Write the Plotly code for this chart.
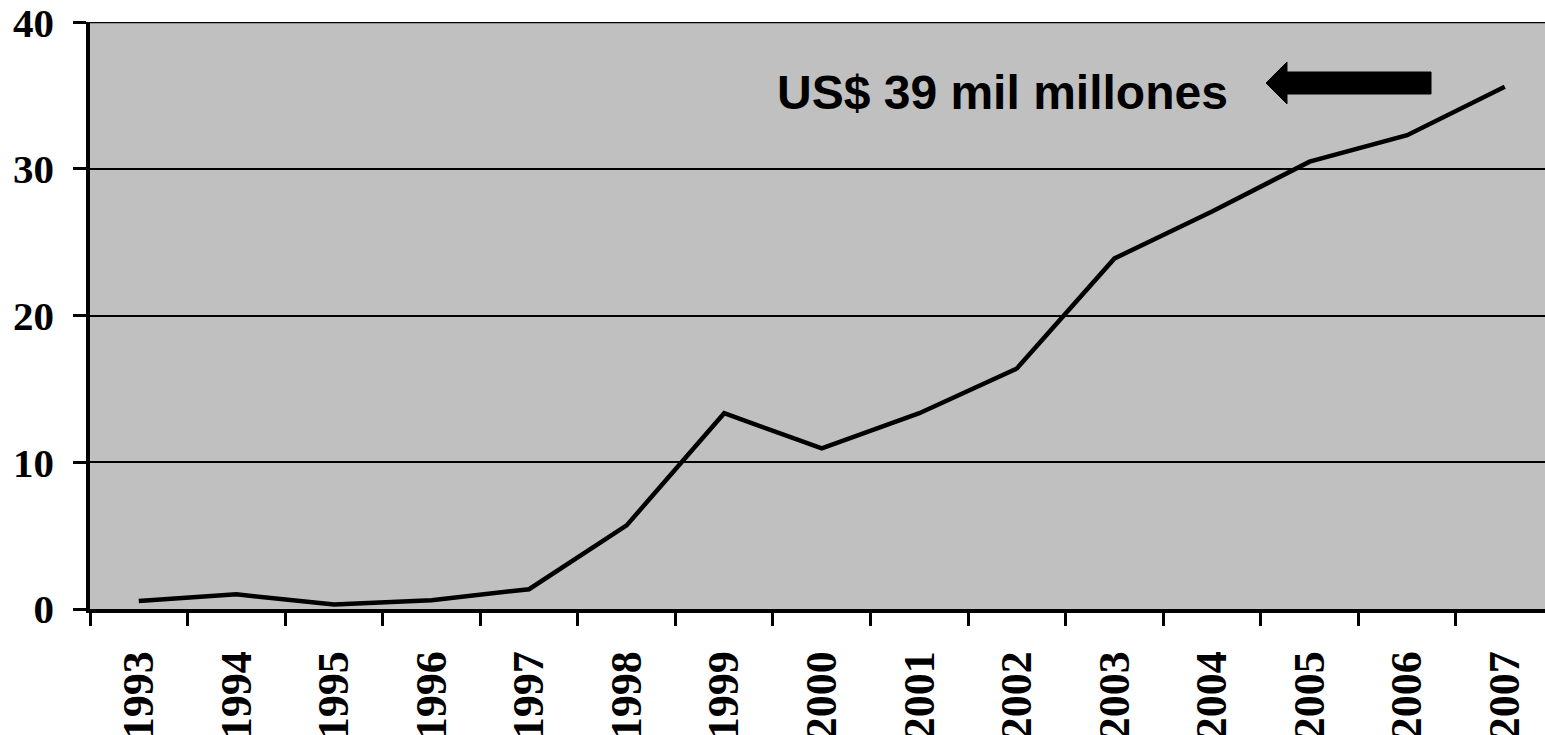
import plotly.graph_objects as go

years = ["1993", "1994", "1995", "1996", "1997", "1998", "1999", "2000",
         "2001", "2002", "2003", "2004", "2005", "2006", "2007"]
values = [0.55, 1.0, 0.3, 0.6, 1.35, 5.7, 13.35, 10.95,
          13.35, 16.4, 23.9, 27.1, 30.5, 32.3, 35.6]
y_ticks = [0, 10, 20, 30, 40]
note_text = "US$ 39 mil millones"

W, H = 1545, 735
L, R, T, B = 90, 0, 22, 735 - 609
pw, ph = W - L - R, H - T - B
cat_px = 97.57  # width of one category in the reference
x_max = -0.5 + pw / cat_px  # plot is cut off at the right edge


def px(x):
    return (x - L) / pw


def py(y):
    return (H - B - y) / ph


fig = go.Figure()
fig.add_trace(go.Scatter(
    x=years, y=values, mode="lines",
    line=dict(color="black", width=4.5),
    showlegend=False, hoverinfo="skip",
))

# top border line at 40
fig.add_shape(type="line", xref="paper", yref="y", x0=0, x1=1, y0=40, y1=40,
              line=dict(color="black", width=2))

# arrow
pts = [(1266, 83), (1287, 62), (1287, 72), (1431, 72), (1431, 94), (1287, 94), (1287, 104)]
path = "M " + " L ".join(f"{px(a):.5f},{py(b):.5f}" for a, b in pts) + " Z"
fig.add_shape(type="path", xref="paper", yref="paper", path=path,
              fillcolor="black", line=dict(color="black", width=1))

fig.add_annotation(
    text=note_text, xref="paper", yref="paper",
    x=px(1230), y=py(93), xanchor="right", yanchor="middle",
    showarrow=False,
    font=dict(family="Liberation Sans", size=48, color="black", weight="bold"),
)

fig.update_layout(
    width=W, height=H,
    margin=dict(l=L, r=R, t=T, b=B, autoexpand=False),
    paper_bgcolor="white",
    plot_bgcolor="#C0C0C0",
    showlegend=False,
)
fig.update_xaxes(
    type="category", tickson="boundaries",
    range=[-0.5, x_max],
    tickangle=-90,
    ticks="outside", ticklen=13, tickwidth=2.5, tickcolor="black",
    showline=True, linecolor="black", linewidth=3.5,
    showgrid=False, zeroline=False,
    tickfont=dict(family="Liberation Serif", size=44, color="black", weight="bold"),
    ticklabelstandoff=21,
    ticklabeloverflow="allow",
    automargin=False,
)
fig.update_yaxes(
    range=[0, 40.02], tickvals=y_ticks,
    ticks="outside", ticklen=13, tickwidth=2.5, tickcolor="black",
    showline=True, linecolor="black", linewidth=3.5,
    showgrid=True, gridcolor="black", gridwidth=2,
    zeroline=False,
    tickfont=dict(family="Liberation Serif", size=41, color="black", weight="bold"),
    ticklabelstandoff=11,
    ticklabeloverflow="allow",
    automargin=False,
)

fig.write_html(
    "out.html",
    config={"displayModeBar": False},
    post_script="document.body.style.margin='0';document.body.style.overflow='hidden';",
)
